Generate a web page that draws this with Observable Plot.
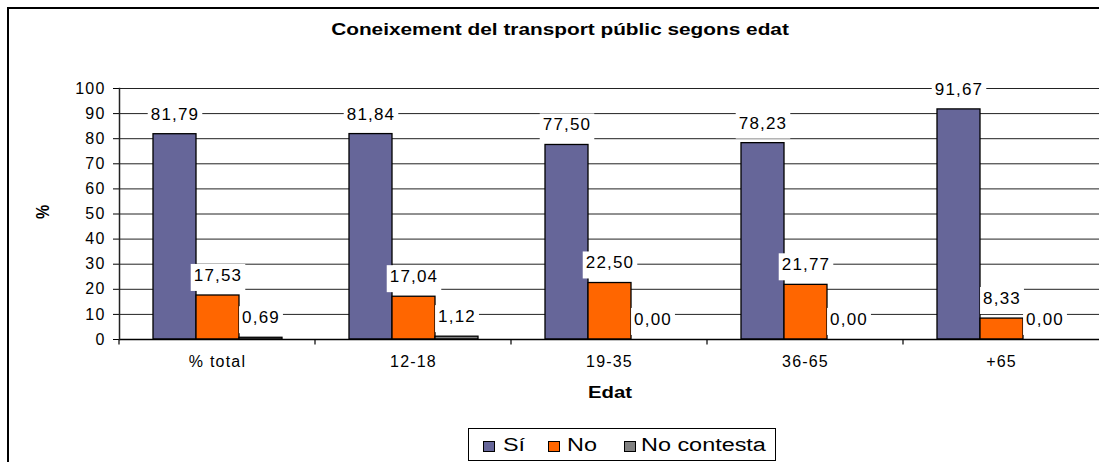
<!DOCTYPE html>
<html><head><meta charset="utf-8">
<script src="https://cdn.jsdelivr.net/npm/d3@7"></script>
<script src="https://cdn.jsdelivr.net/npm/@observablehq/plot@0.6"></script>
<style>
html,body{margin:0;padding:0;background:#fff;overflow:hidden;font-family:"Liberation Sans",Arial,sans-serif;}
#wrap{position:relative;width:1099px;height:462px;overflow:hidden;background:#fff;}
#bl{position:absolute;left:7px;top:7px;width:2px;height:455px;background:#000;}
#bt{position:absolute;left:7px;top:7px;width:1092px;height:2px;background:#000;}
#wrap svg{position:absolute;left:0;top:0;max-width:none;}
.lbl{position:absolute;white-space:nowrap;color:#000;line-height:1;}
#legend{position:absolute;left:468px;top:428px;width:308px;height:33px;border:1px solid #000;box-sizing:border-box;background:#fff;}
.sw{position:absolute;width:12px;height:11px;border:1px solid #000;box-sizing:border-box;}
</style></head><body>
<div id="wrap"><div id="bl"></div><div id="bt"></div></div>
<script>
// ---- data ----
const categories = ["% total", "12-18", "19-35", "36-65", "+65"];
const series = ["Sí", "No", "No contesta"];
const siValues = [81.79, 81.84, 77.50, 78.23, 91.67];
const noValues = [17.53, 17.04, 22.50, 21.77, 8.33];
const ncValues = [0.69, 1.12, 0.00, 0.00, 0.00];
const yTicks = [0, 10, 20, 30, 40, 50, 60, 70, 80, 90, 100];
const seriesColors = ["#666699", "#FF6600", "#808080"];
const titleText = "Coneixement del transport públic segons edat";
const xTitle = "Edat";
const yTitle = "%";

const valuesBySeries = [siValues, noValues, ncValues];
const data = categories.flatMap((c, i) =>
  series.map((s, j) => ({cat: c, serie: s, value: valuesBySeries[j][i]})));
const fmt = v => v.toFixed(2).replace(".", ",");
const svgNS = "http://www.w3.org/2000/svg";

function baselineTicks(index, scales, values, dims, ctx, next) {
  const g = next(index, scales, values, dims, ctx);
  const line = g.querySelector("line");
  if (line) {
    const x = +line.getAttribute("x1");
    const y = +line.getAttribute("y1");
    const t = document.createElementNS(svgNS, "line");
    t.setAttribute("x1", x); t.setAttribute("x2", x);
    t.setAttribute("y1", y); t.setAttribute("y2", y + 5);
    t.setAttribute("stroke", "#000");
    t.setAttribute("stroke-width", 1.2);
    g.appendChild(t);
  }
  return g;
}
function tagLabels(index, scales, values, dims, ctx, next) {
  const g = next(index, scales, values, dims, ctx);
  g.classList.add("vlabels");
  return g;
}

const chart = Plot.plot({
  width: 1099, height: 462,
  marginLeft: 118, marginRight: 0, marginTop: 88, marginBottom: 123,
  style: {fontFamily: "'Liberation Sans', Arial, sans-serif", fontSize: "16px", background: "transparent", letterSpacing: "1.2px", color: "#000"},
  fx: {domain: categories, padding: 0, label: null},
  x: {domain: series, paddingInner: 0, paddingOuter: 0.74, axis: null},
  y: {domain: [0, 100], label: null},
  color: {domain: series, range: seriesColors},
  marks: [
    Plot.gridY(yTicks, {stroke: "#222", strokeOpacity: 1, strokeWidth: 1}),
    Plot.axisY({ticks: yTicks, tickSize: 6, tickPadding: 8, label: null, fontSize: 16, stroke: "#000"}),
    Plot.barY(data, {fx: "cat", x: "serie", y: "value", fill: "serie", stroke: "#000", strokeWidth: 1.3}),
    Plot.ruleY([0], {stroke: "#000", strokeWidth: 1.5, render: baselineTicks}),
    Plot.frame({anchor: "left", facetAnchor: "left", stroke: "#222", strokeWidth: 1.5}),
    Plot.axisFx({anchor: "bottom", tickSize: 0, tickPadding: 16, label: null, fontSize: 16}),
    Plot.text(data, {fx: "cat", x: "serie", y: "value", text: d => fmt(d.value), dy: -20, lineAnchor: "middle", fontSize: 17, fill: "#000", render: tagLabels})
  ]
});

const wrap = document.getElementById("wrap");
wrap.appendChild(chart);

// white boxes behind the data labels
chart.querySelectorAll("g.vlabels").forEach(g => {
  const texts = Array.from(g.querySelectorAll("text"));
  const first = g.firstChild;
  texts.forEach(t => {
    const b = t.getBBox();
    const r = document.createElementNS(svgNS, "rect");
    r.setAttribute("x", b.x - 3);
    r.setAttribute("y", b.y - 2);
    r.setAttribute("width", b.width + 6);
    r.setAttribute("height", b.height + 8);
    r.setAttribute("fill", "#fff");
    const tr = t.getAttribute("transform");
    if (tr) r.setAttribute("transform", tr);
    g.insertBefore(r, first);
  });
});

function addText(txt, cx, cy, size, weight, transformExtra) {
  const d = document.createElement("div");
  d.className = "lbl";
  d.textContent = txt;
  d.style.left = cx + "px";
  d.style.top = cy + "px";
  d.style.fontSize = size + "px";
  d.style.fontWeight = weight;
  d.style.transform = "translate(-50%,-50%) " + transformExtra;
  wrap.appendChild(d);
  return d;
}
addText(titleText, 560, 30, 16, "bold", "scaleX(1.3)");
addText(xTitle, 610, 393, 16, "bold", "scaleX(1.27)");
addText(yTitle, 42.5, 212, 16, "bold", "rotate(-90deg) scaleY(1.15)");

// legend
const legend = document.createElement("div");
legend.id = "legend";
wrap.appendChild(legend);
const swX = [14, 79, 155];
const txX = [34, 98, 172];
series.forEach((s, i) => {
  const sw = document.createElement("div");
  sw.className = "sw";
  sw.style.left = swX[i] + "px";
  sw.style.top = "12px";
  sw.style.background = seriesColors[i];
  legend.appendChild(sw);
  const t = document.createElement("div");
  t.className = "lbl";
  t.textContent = s;
  t.style.left = txX[i] + "px";
  t.style.top = "7px";
  t.style.fontSize = "18px";
  t.style.transformOrigin = "left center";
  t.style.transform = "scaleX(1.3)";
  legend.appendChild(t);
});
</script>
</body></html>
